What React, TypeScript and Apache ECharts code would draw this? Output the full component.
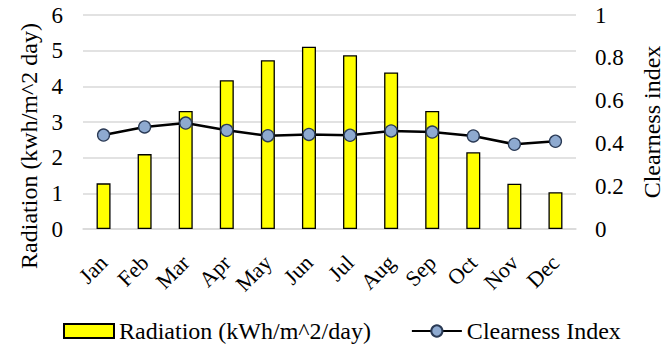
import React, { useEffect, useRef } from "react";
import * as echarts from "echarts";

const months = ["Jan", "Feb", "Mar", "Apr", "May", "Jun", "Jul", "Aug", "Sep", "Oct", "Nov", "Dec"];
const radiation = [1.28, 2.1, 3.31, 4.17, 4.73, 5.11, 4.87, 4.39, 3.31, 2.15, 1.27, 1.03];
const clearness = [0.439, 0.477, 0.495, 0.461, 0.436, 0.442, 0.438, 0.458, 0.453, 0.435, 0.396, 0.41];

const FONT = "'Liberation Serif', 'Times New Roman', serif";

export default function App() {
  const ref = useRef<HTMLDivElement>(null);
  useEffect(() => {
    document.body.style.margin = "0";
    const chart = echarts.init(ref.current!, null, { renderer: "svg" });
    chart.setOption({
      animation: false,
      backgroundColor: "#ffffff",
      textStyle: { fontFamily: FONT, color: "#000" },
      grid: { left: 83, right: 93, top: 15, bottom: 116, containLabel: false, outerBoundsMode: "none" },
      legend: {
        left: 63,
        top: 319,
        padding: 0,
        itemWidth: 50,
        itemHeight: 14,
        itemGap: 40,
        textStyle: { fontFamily: FONT, fontSize: 24, color: "#000" },
        data: [
          { name: "Radiation (kWh/m^2/day)", icon: "rect" },
          { name: "Clearness Index" },
        ],
      },
      graphic: [
        {
          type: "text",
          x: 29,
          y: 146,
          rotation: Math.PI / 2,
          style: {
            text: "Radiation (kwh/m^2 day)",
            fontFamily: FONT,
            fontSize: 24,
            fill: "#000",
            textAlign: "center",
            textVerticalAlign: "middle",
          },
        },
      ],
      xAxis: {
        type: "category",
        data: months,
        axisLine: { show: true, lineStyle: { color: "#d9d9d9", width: 1.5 } },
        axisTick: { show: false },
        axisLabel: { rotate: 45, fontFamily: FONT, fontSize: 22, color: "#000", margin: 30, interval: 0 },
      },
      yAxis: [
        {
          type: "value",
          min: 0,
          max: 6,
          interval: 1,
          axisLine: { show: false },
          axisTick: { show: false },
          axisLabel: { fontFamily: FONT, fontSize: 23, color: "#000", margin: 20 },
          splitLine: { lineStyle: { color: "#d9d9d9", width: 1.5 } },
        },
        {
          type: "value",
          min: 0,
          max: 1,
          interval: 0.2,
          name: "Clearness index",
          nameLocation: "middle",
          nameRotate: 90,
          nameGap: 64,
          nameTextStyle: { fontFamily: FONT, fontSize: 24, color: "#000" },
          axisLine: { show: false },
          axisTick: { show: false },
          axisLabel: { fontFamily: FONT, fontSize: 23, color: "#000", margin: 19 },
          splitLine: { show: false },
        },
      ],
      series: [
        {
          name: "Radiation (kWh/m^2/day)",
          type: "bar",
          data: radiation,
          barWidth: 14,
          itemStyle: { color: "#ffff00", borderColor: "#000", borderWidth: 1.3 },
        },
        {
          name: "Clearness Index",
          type: "line",
          yAxisIndex: 1,
          data: clearness,
          symbol: "circle",
          symbolSize: 12,
          lineStyle: { color: "#000", width: 2.5 },
          itemStyle: { color: "#8eaad0", borderColor: "#2a3a55", borderWidth: 1.3 },
        },
      ],
    });
    return () => chart.dispose();
  }, []);
  return <div ref={ref} style={{ width: 669, height: 345 }} />;
}
